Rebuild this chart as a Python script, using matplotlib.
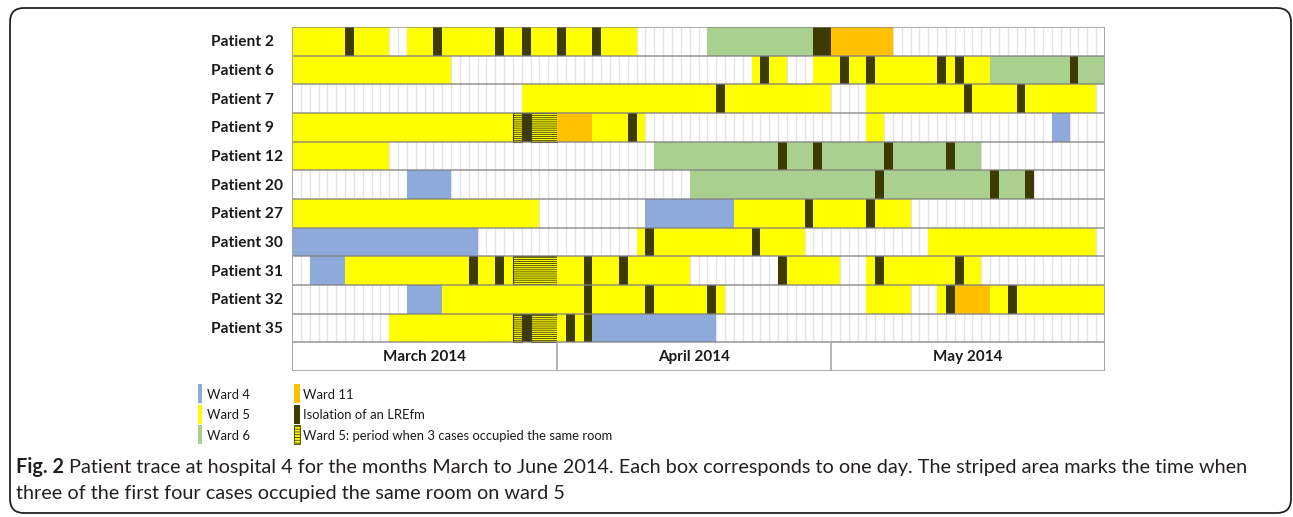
import matplotlib.pyplot as plt
from matplotlib.patches import Rectangle, FancyBboxPatch

# ward codes: Y ward 5, B ward 4, G ward 6, O ward 11, D isolation, S ward 5 shared room
patients = ["Patient 2", "Patient 6", "Patient 7", "Patient 9", "Patient 12", "Patient 20",
            "Patient 27", "Patient 30", "Patient 31", "Patient 32", "Patient 35"]

# (first day, last day exclusive, ward) ; day 0 = 1 March 2014
p2 = [(0, 6, 'Y'), (6, 7, 'D'), (7, 11, 'Y'), (13, 16, 'Y'), (16, 17, 'D'), (17, 23, 'Y'),
      (23, 24, 'D'), (24, 26, 'Y'), (26, 27, 'D'), (27, 30, 'Y'), (30, 31, 'D'), (31, 34, 'Y'),
      (34, 35, 'D'), (35, 39, 'Y'), (47, 59, 'G'), (59, 61, 'D'), (61, 68, 'O')]
p6 = [(0, 18, 'Y'), (52, 53, 'Y'), (53, 54, 'D'), (54, 56, 'Y'), (59, 62, 'Y'), (62, 63, 'D'),
      (63, 65, 'Y'), (65, 66, 'D'), (66, 73, 'Y'), (73, 74, 'D'), (74, 75, 'Y'), (75, 76, 'D'),
      (76, 79, 'Y'), (79, 88, 'G'), (88, 89, 'D'), (89, 92, 'G')]
p7 = [(26, 48, 'Y'), (48, 49, 'D'), (49, 61, 'Y'), (65, 76, 'Y'), (76, 77, 'D'), (77, 82, 'Y'),
      (82, 83, 'D'), (83, 91, 'Y')]
p9 = [(0, 25, 'Y'), (25, 26, 'S'), (26, 27, 'D'), (27, 30, 'S'), (30, 34, 'O'), (34, 38, 'Y'),
      (38, 39, 'D'), (39, 40, 'Y'), (65, 67, 'Y'), (86, 88, 'B')]
p12 = [(0, 11, 'Y'), (41, 55, 'G'), (55, 56, 'D'), (56, 59, 'G'), (59, 60, 'D'), (60, 67, 'G'),
       (67, 68, 'D'), (68, 74, 'G'), (74, 75, 'D'), (75, 78, 'G')]
p20 = [(13, 18, 'B'), (45, 66, 'G'), (66, 67, 'D'), (67, 79, 'G'), (79, 80, 'D'), (80, 83, 'G'),
       (83, 84, 'D')]
p27 = [(0, 28, 'Y'), (40, 50, 'B'), (50, 58, 'Y'), (58, 59, 'D'), (59, 65, 'Y'), (65, 66, 'D'),
       (66, 70, 'Y')]
p30 = [(0, 21, 'B'), (39, 40, 'Y'), (40, 41, 'D'), (41, 52, 'Y'), (52, 53, 'D'), (53, 58, 'Y'),
       (72, 91, 'Y')]
p31 = [(2, 6, 'B'), (6, 20, 'Y'), (20, 21, 'D'), (21, 23, 'Y'), (23, 24, 'D'), (24, 25, 'Y'),
       (25, 30, 'S'), (30, 33, 'Y'), (33, 34, 'D'), (34, 37, 'Y'), (37, 38, 'D'), (38, 45, 'Y'),
       (55, 56, 'D'), (56, 62, 'Y'), (65, 66, 'Y'), (66, 67, 'D'), (67, 75, 'Y'), (75, 76, 'D'),
       (76, 78, 'Y')]
p32 = [(13, 17, 'B'), (17, 33, 'Y'), (33, 34, 'D'), (34, 40, 'Y'), (40, 41, 'D'), (41, 47, 'Y'),
       (47, 48, 'D'), (48, 49, 'Y'), (65, 70, 'Y'), (73, 74, 'Y'), (74, 75, 'D'), (75, 79, 'O'),
       (79, 81, 'Y'), (81, 82, 'D'), (82, 92, 'Y')]
p35 = [(11, 25, 'Y'), (25, 26, 'S'), (26, 27, 'D'), (27, 30, 'S'), (30, 31, 'Y'), (31, 32, 'D'),
       (32, 33, 'Y'), (33, 34, 'D'), (34, 48, 'B')]
traces = [p2, p6, p7, p9, p12, p20, p27, p30, p31, p32, p35]

n_days = 92
months = ["March 2014", "April 2014", "May 2014"]
month_edges = [0, 30, 61, 92]

legend_col1 = [('B', "Ward 4"), ('Y', "Ward 5"), ('G', "Ward 6")]
legend_col2 = [('O', "Ward 11"), ('D', "Isolation of an LREfm"),
               ('S', "Ward 5: period when 3 cases occupied the same room")]

colors = {'Y': '#ffff00', 'B': '#8eaadb', 'G': '#a9d08e', 'O': '#ffc000',
          'D': '#3d3b00', 'S': '#ffff00'}
dark = '#3d3b00'
line_gray = '#a6a6a6'

plt.rcParams['hatch.linewidth'] = 0.6
plt.rcParams['font.family'] = ['Lato', 'DejaVu Sans']

W, H = 1293, 517
fig = plt.figure(figsize=(W / 100, H / 100), dpi=100)

# overlay in pixel coordinates for frame, labels, legend, caption
ov = fig.add_axes([0, 0, 1, 1])
ov.set_xlim(0, W)
ov.set_ylim(H, 0)
ov.axis('off')

ov.add_patch(FancyBboxPatch((10, 8), 1281, 505, boxstyle='round,pad=0,rounding_size=14',
                            fill=False, ec='#222222', lw=1.3))

ax = fig.add_axes([292 / W, 1 - 371 / H, 813 / W, 344 / H])
ax.set_xlim(0, n_days)
ax.set_ylim(12, 0)
ax.axis('off')

# day grid
ax.vlines(range(1, n_days), 0, 11, color='#e4e4e4', lw=1, zorder=1)

for i, segs in enumerate(traces):
    for s, e, w in segs:
        if w == 'S':
            ax.barh(i + 0.5, e - s, left=s, height=1, color=colors[w], hatch='--------',
                    edgecolor=dark, lw=0.8, zorder=2)
        else:
            ax.barh(i + 0.5, e - s, left=s, height=1, color=colors[w], edgecolor='none',
                    zorder=2)

# row separators and borders
ax.hlines(range(0, 13), 0, n_days, color='#7f7f7f', alpha=0.65, lw=1.4, zorder=3)
ax.vlines([0, n_days], 0, 12, color=line_gray, lw=1.4, zorder=3)
ax.vlines(month_edges[1:-1], 11, 12, color=line_gray, lw=1.2, zorder=3)

for k, m in enumerate(months):
    ax.text((month_edges[k] + month_edges[k + 1]) / 2, 11.5, m, ha='center', va='center',
            fontsize=11, fontweight='bold', color='#1a1a1a')

row_h = 344 / 12
for i, name in enumerate(patients):
    ov.text(211, 28 + row_h * (i + 0.5), name, ha='left', va='center', fontsize=11.2,
            fontweight='bold', color='#1a1a1a')

# legend
for k, (w, lab) in enumerate(legend_col1):
    ov.add_patch(Rectangle((198, 384 + 20.5 * k), 4, 19, color=colors[w], lw=0))
    ov.text(207, 395 + 20.3 * k, lab, ha='left', va='center', fontsize=9.4, color='#1a1a1a')
for k, (w, lab) in enumerate(legend_col2):
    if w == 'S':
        ov.add_patch(Rectangle((294, 384 + 20.5 * k), 6, 19, facecolor=colors[w],
                               hatch='------', edgecolor=dark, lw=0.6))
    else:
        ov.add_patch(Rectangle((294, 384 + 20.5 * k), 6, 19, color=colors[w], lw=0))
    ov.text(303, 395 + 20.3 * k, lab, ha='left', va='center', fontsize=9.4, color='#1a1a1a')

# caption
cap_size = 14.3
t0 = ov.text(16, 467, "Fig. 2", ha='left', va='center', fontsize=cap_size,
             fontweight='bold', color='#231f20')
r = fig.canvas.get_renderer()
bb = t0.get_window_extent(r)
ov.text(16 + bb.width + 5, 467,
        "Patient trace at hospital 4 for the months March to June 2014. Each box corresponds "
        "to one day. The striped area marks the time when",
        ha='left', va='center', fontsize=cap_size, color='#231f20')
ov.text(16, 494, "three of the first four cases occupied the same room on ward 5",
        ha='left', va='center', fontsize=cap_size, color='#231f20')

fig.savefig('out.png', dpi=100)
